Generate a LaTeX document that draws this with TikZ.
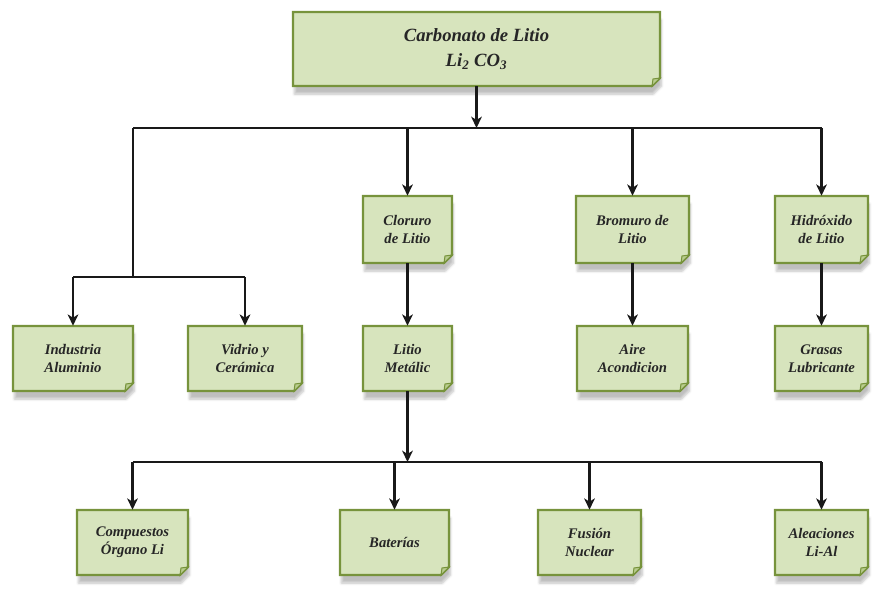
\documentclass[tikz,border=0pt]{standalone}
\usepackage{fontspec}
\setmainfont{Liberation Serif}
\usepackage{tikz}
\usetikzlibrary{calc}
\usetikzlibrary{arrows.meta}
\usetikzlibrary{shadows.blur}
\definecolor{notegreen}{HTML}{D7E4BD}
\definecolor{noteline}{HTML}{77933C}
\definecolor{notefoldc}{HTML}{B9CD8E}
\tikzset{
  notefill/.style={fill=notegreen, draw=noteline, line width=1.6pt, line join=miter,
    blur shadow={shadow xshift=1pt, shadow yshift=-6pt, shadow opacity=25, shadow blur steps=6}},
  notefold/.style={fill=notefoldc, draw=noteline, line width=0.8pt},
  notetext/.style={inner sep=0pt, align=center, text=black!85,
    font=\bfseries\itshape\fontsize{11}{13.3}\selectfont},
  conn/.style={line width=1.6pt, draw=black!90},
  arr/.style={conn, -{Stealth[length=8.5pt,width=8pt,inset=2.5pt]}}
}
\newcommand{\bigtxt}{\fontsize{14}{19}\selectfont}
% box with a folded corner: x1 y1 x2 y2 name text
\newcommand{\notebox}[6]{ \path[notefill] ( #1 , #2 ) -- ( #3 , #2 ) -- ( #3 , #4 - 8 ) -- ( #3 - 8 , #4 ) -- ( #1 , #4 ) -- cycle; \path[notefold] ( #3 , #4 - 8 ) -- ( #3 - 8 , #4 ) -- ( #3 - 7 , #4 - 7 ) -- cycle; \node[notetext, minimum width={( #3 - #1 )*0.75pt}, minimum height={( #4 - #2 )*0.75pt}] (#5) at ( #1 * 0.5 + #3 * 0.5 , #2 * 0.5 + #4 * 0.5 ){#6};}

\begin{document}
\begin{tikzpicture}[x=0.75pt, y=-0.75pt]
    \useasboundingbox ( 0 , 0 ) rectangle ( 878 , 590 );
    % top
    \notebox{293}{12}{660}{86}{carb}{\bigtxt Carbonato de Litio\\[5pt] \bigtxt Li\textsubscript{2} CO\textsubscript{3}}
    % row2
    \notebox{363}{196}{452}{263}{clor}{Cloruro\\ de Litio}
    \notebox{576}{196}{689}{263}{brom}{Bromuro de\\ Litio}
    \notebox{775}{196}{868}{263}{hidr}{Hidróxido\\ de Litio}
    % row3
    \notebox{13}{326}{133}{391}{indu}{Industria\\ Aluminio}
    \notebox{188}{326}{302}{391}{vidr}{Vidrio y\\ Cerámica}
    \notebox{363}{326}{452}{391}{meta}{Litio\\ Metálic}
    \notebox{577}{326}{688}{391}{aire}{Aire\\ Acondicion}
    \notebox{775}{326}{868}{391}{gras}{Grasas\\ Lubricante}
    % row4
    \notebox{77}{510}{188}{575}{comp}{Compuestos\\ Órgano Li}
    \notebox{340}{510}{449}{575}{bate}{Baterías}
    \notebox{538}{510}{641}{575}{fusi}{Fusión\\ Nuclear}
    \notebox{775}{510}{868}{575}{alea}{Aleaciones\\ Li-Al}
    % junctions
    \coordinate (barA) at ( 133 , 128 );
    \coordinate (barB) at ( 133 , 277 );
    \coordinate (barC) at ( 133 , 462 );
    % connectors from the top
    \draw[arr] (carb.south) -- (carb.south |- barA);
    \draw[conn] (barA) -- (hidr.north |- barA);
    \draw[conn] (barA) -- (barB);
    \draw[conn] (indu.north |- barB) -- (vidr.north |- barB);
    \draw[arr] (indu.north |- barB) -- (indu.north);
    \draw[arr] (vidr.north |- barB) -- (vidr.north);
    \draw[arr] (clor.north |- barA) -- (clor.north);
    \draw[arr] (brom.north |- barA) -- (brom.north);
    \draw[arr] (hidr.north |- barA) -- (hidr.north);
    % second level
    \draw[arr] (clor.south) -- (meta.north);
    \draw[arr] (brom.south) -- (aire.north);
    \draw[arr] (hidr.south) -- (gras.north);
    % third level
    \draw[arr] (meta.south) -- (meta.south |- barC);
    \draw[conn] (comp.north |- barC) -- (alea.north |- barC);
    \draw[arr] (comp.north |- barC) -- (comp.north);
    \draw[arr] (bate.north |- barC) -- (bate.north);
    \draw[arr] (fusi.north |- barC) -- (fusi.north);
    \draw[arr] (alea.north |- barC) -- (alea.north);
\end{tikzpicture}
\end{document}
